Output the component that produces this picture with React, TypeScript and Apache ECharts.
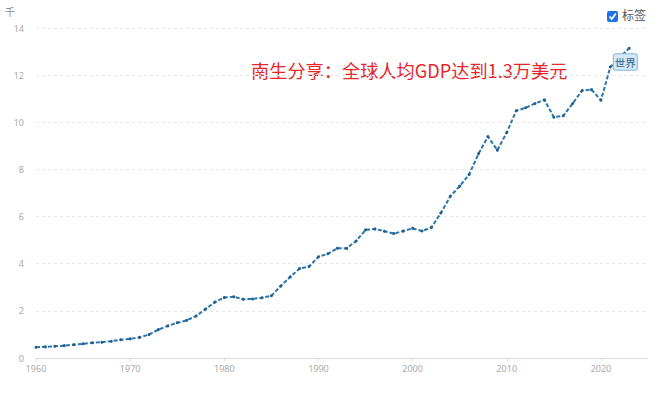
import React, { useEffect, useRef } from "react";
import * as echarts from "echarts";

const years = [
  1960, 1961, 1962, 1963, 1964, 1965, 1966, 1967, 1968, 1969,
  1970, 1971, 1972, 1973, 1974, 1975, 1976, 1977, 1978, 1979,
  1980, 1981, 1982, 1983, 1984, 1985, 1986, 1987, 1988, 1989,
  1990, 1991, 1992, 1993, 1994, 1995, 1996, 1997, 1998, 1999,
  2000, 2001, 2002, 2003, 2004, 2005, 2006, 2007, 2008, 2009,
  2010, 2011, 2012, 2013, 2014, 2015, 2016, 2017, 2018, 2019,
  2020, 2021, 2022, 2023,
];
const gdpPerCapitaK = [
  0.459, 0.472, 0.497, 0.525, 0.565, 0.603, 0.643, 0.670, 0.713, 0.776,
  0.812, 0.875, 0.993, 1.204, 1.362, 1.496, 1.597, 1.781, 2.072, 2.372,
  2.563, 2.597, 2.494, 2.504, 2.556, 2.638, 3.054, 3.441, 3.797, 3.881,
  4.297, 4.420, 4.656, 4.650, 4.962, 5.434, 5.476, 5.379, 5.279, 5.383,
  5.500, 5.385, 5.541, 6.155, 6.857, 7.291, 7.784, 8.664, 9.393, 8.818,
  9.569, 10.488, 10.615, 10.799, 10.950, 10.216, 10.276, 10.798, 11.346, 11.384,
  10.933, 12.345, 12.764, 13.138,
];
const xTickLabels = [1960, 1970, 1980, 1990, 2000, 2010, 2020];
const seriesName = "世界";
const labelYear = 2021;
const titleText = "南生分享：全球人均GDP达到1.3万美元";
const unitText = "千";
const legendText = "标签";

export default function App() {
  const ref = useRef<HTMLDivElement>(null);
  useEffect(() => {
    if (!ref.current) return;
    const chart = echarts.init(ref.current, null, { renderer: "svg" });
    const data = years.map((y, i) => {
      const item: any = { value: [y, gdpPerCapitaK[i]] };
      if (y === labelYear) {
        item.label = {
          show: true,
          position: "right",
          distance: 2,
          offset: [0, -5],
          formatter: seriesName,
          color: "#2f5f8a",
          fontSize: 10.5,
          fontFamily: "Noto Sans CJK SC",
          backgroundColor: "#d4e8f7",
          borderColor: "#86b8de",
          borderWidth: 1,
          borderRadius: 2,
          padding: [3, 1, 2, 1],
        };
      }
      return item;
    });
    chart.setOption({
      animation: false,
      grid: { left: 36, right: 12, top: 28, bottom: 42 },
      xAxis: {
        type: "value",
        min: 1960,
        max: 2025,
        interval: 10,
        axisLine: { show: true, lineStyle: { color: "#dcdcdc" } },
        axisTick: {
          show: true,
          length: 3,
          lineStyle: { color: "#dcdcdc" },
          customValues: xTickLabels,
        },
        axisLabel: {
          color: "#aaaaaa",
          fontSize: 9,
          fontFamily: "Noto Sans",
          margin: 6,
          customValues: xTickLabels,
          formatter: (v: number) => String(v),
        },
        splitLine: { show: false },
      },
      yAxis: {
        type: "value",
        min: 0,
        max: 14,
        interval: 2,
        axisLine: { show: false },
        axisTick: { show: false },
        axisLabel: {
          color: "#aaaaaa",
          fontSize: 9,
          fontFamily: "Noto Sans",
          margin: 12,
        },
        splitLine: { lineStyle: { color: "#e6e6e6", type: [3, 3] } },
      },
      series: [
        {
          type: "line",
          name: seriesName,
          data,
          symbol: "circle",
          symbolSize: 3,
          showSymbol: true,
          itemStyle: { color: "#1f5f8f" },
          lineStyle: { color: "#2a75ad", width: 2, type: [4, 2] },
        },
      ],
      graphic: [
        {
          type: "text",
          left: 5,
          top: 6,
          style: { text: unitText, fill: "#888", fontSize: 10, fontFamily: "Noto Sans CJK SC" },
        },
        {
          type: "text",
          left: 251,
          top: 61,
          style: {
            text: titleText,
            fill: "#e8262a",
            fontSize: 18.2,
            fontFamily: "Noto Sans CJK SC",
          },
        },
        {
          type: "rect",
          shape: { x: 607, y: 11, width: 11, height: 11, r: 2 },
          style: { fill: "#1a73e8" },
        },
        {
          type: "polyline",
          shape: { points: [[609.5, 16.5], [611.7, 19], [615.8, 13.5]] },
          style: { stroke: "#fff", lineWidth: 1.8, fill: null },
        },
        {
          type: "text",
          left: 622,
          top: 8,
          style: { text: legendText, fill: "#555", fontSize: 12, fontFamily: "Noto Sans CJK SC" },
        },
      ],
    });
    return () => chart.dispose();
  }, []);
  return <div ref={ref} style={{ width: 660, height: 400, position: "absolute", left: 0, top: 0 }} />;
}
